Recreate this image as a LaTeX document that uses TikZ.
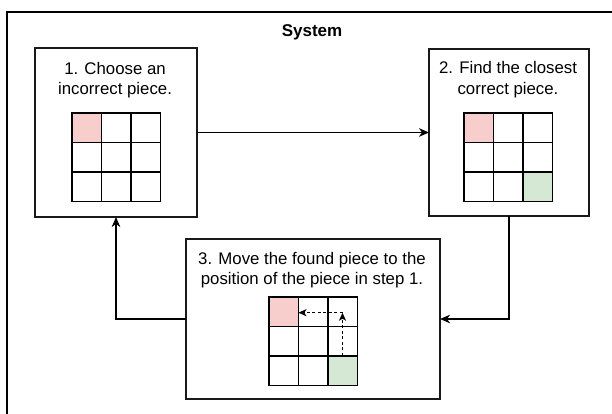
\documentclass[tikz,border=0pt]{standalone}
\usepackage{fontspec}
\setmainfont{Liberation Sans}
\usetikzlibrary{arrows.meta}
\definecolor{pinkfill}{HTML}{F8CECC}
\definecolor{greenfill}{HTML}{D5E8D4}
\tikzset{
  stepbox/.style={draw=black!90, line width=1.4pt, inner sep=0pt, outer sep=0pt},
  steptext/.style={align=center, font=\fontsize{16.8}{20.5}\selectfont, inner sep=0pt},
  cell/.style={draw=black, line width=1.4pt, minimum size=29.4pt, inner sep=0pt, outer sep=0pt},
  flow/.style={line width=1.5pt, -{Stealth[length=10pt,width=8.5pt,inset=3pt]}},
  move/.style={line width=1.4pt, dashed, dash pattern=on 3pt off 2.5pt, -{Stealth[length=8pt,width=7pt,inset=2pt]}},
}
\begin{document}
\begin{tikzpicture}[x=1pt,y=-1pt]
\useasboundingbox (0,0) rectangle (612,414);
\clip (0,0) rectangle (612,414);
\fill[white] (0,0) rectangle (612,414);
% outer frame
\draw[line width=2pt] (7,12) rectangle (640,440);
\node[font=\bfseries\fontsize{17}{20}\selectfont] (title) at (312,32) {System};
% boxes
\node[stepbox, minimum width=162pt, minimum height=169pt] (box1) at (116,132.5) {};
\node[stepbox, minimum width=160pt, minimum height=167pt] (box2) at (509,132.5) {};
\node[stepbox, minimum width=254pt, minimum height=160pt] (box3) at (313,319) {};
% texts
\node[steptext] (t1) at (115,80) {1. Choose an\\incorrect piece.};
\node[steptext] (t2) at (508,79.5) {2. Find the closest\\correct piece.};
\node[steptext] (t3) at (312,270) {3. Move the found piece to the\\position of the piece in step 1.};
% grids
\foreach \g/\ox/\oy in {1/72/113, 2/464/113, 3/269/297} {
  \foreach \r in {1,2,3} {
    \foreach \c in {1,2,3} {
      \node[cell] (g\g-\r-\c) at ({\ox+(\c-0.5)*29.4},{\oy+(\r-0.5)*29.4}) {};
    }
  }
}
% coloured cells
\foreach \g in {1,2,3} {
  \node[cell, fill=pinkfill] at (g\g-1-1) {};
}
\foreach \g in {2,3} {
  \node[cell, fill=greenfill] at (g\g-3-3) {};
}
% flow connectors
\draw[flow] (box1.east) -- (box2.west);
\draw[flow] (box2.south) |- (box3.east);
\draw[flow] (box3.west) -| (box1.south);
% move arrows
\draw[move] (g3-2-3.south) -- ([yshift=-1pt]g3-1-3.center);
\draw[move] ([yshift=-1pt]g3-1-3.center) -- ([yshift=-1pt]g3-1-1.east);
\end{tikzpicture}
\end{document}
